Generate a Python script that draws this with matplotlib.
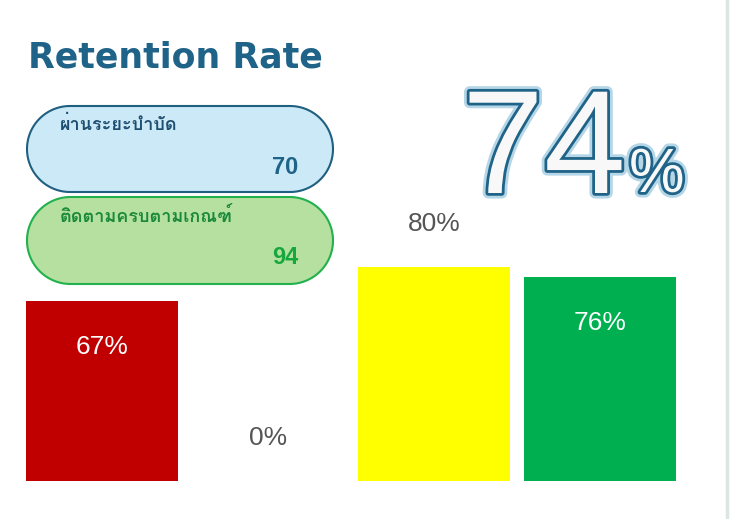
import matplotlib
matplotlib.use("Agg")
import numpy as np
import matplotlib.pyplot as plt
import matplotlib.patheffects as pe
from matplotlib.patches import Polygon
from matplotlib import font_manager
from matplotlib.ft2font import FT2Font

# ---------------- data ----------------
title = "Retention Rate"
big_value = "74"
pill_labels = ["ผ่านระยะบำบัด", "ติดตามครบตามเกณฑ์"]
pill_values = [70, 94]
bar_values = [67, 0, 80, 76]
bar_colors = ["#c00000", "#ffffff", "#ffff00", "#00b050"]
label_inside = [True, False, False, True]

# find a font with Thai glyphs
thai_font = None
for f in font_manager.fontManager.ttflist:
    try:
        cm = FT2Font(f.fname).get_charmap()
        if ord("ผ") in cm and ord("ำ") in cm:
            thai_font = f.name
            break
    except Exception:
        pass
thai_family = [thai_font, "DejaVu Sans"] if thai_font else ["DejaVu Sans"]

plt.rcParams["font.family"] = ["Liberation Sans", "DejaVu Sans"]

W, H = 730, 519
fig = plt.figure(figsize=(W / 100, H / 100), dpi=100)
fig.patch.set_facecolor("white")

# overlay axes in pixel coordinates (y downward)
ov = fig.add_axes([0, 0, 1, 1])
ov.set_xlim(0, W)
ov.set_ylim(H, 0)
ov.axis("off")

# title
ov.text(28, 58, title, fontsize=25, fontweight="bold", color="#1f6388",
        ha="left", va="center", family=["DejaVu Sans"])


def stadium(x0, x1, y0, y1):
    r = (y1 - y0) / 2
    yc = (y0 + y1) / 2
    th_r = np.linspace(-np.pi / 2, np.pi / 2, 60)
    th_l = np.linspace(np.pi / 2, 3 * np.pi / 2, 60)
    xr = (x1 - r) + r * np.cos(th_r)
    yr = yc + r * np.sin(th_r)
    xl = (x0 + r) + r * np.cos(th_l)
    yl = yc + r * np.sin(th_l)
    return np.column_stack([np.concatenate([xr, xl]), np.concatenate([yr, yl])])


# pills
pill_specs = [
    dict(y0=106, y1=192, face="#cce9f8", edge="#1f5f80", tcol="#1f4f70", vcol="#1f6388"),
    dict(y0=197, y1=284, face="#b5e0a0", edge="#22b14c", tcol="#1a8a3a", vcol="#16a83c"),
]
for lab, val, sp in zip(pill_labels, pill_values, pill_specs):
    poly = Polygon(stadium(27, 333, sp["y0"], sp["y1"]), closed=True,
                   facecolor=sp["face"], edgecolor=sp["edge"], linewidth=1.5)
    ov.add_patch(poly)
    ov.text(60, sp["y0"] + 19, lab, fontsize=13, fontweight="bold",
            color=sp["tcol"], ha="left", va="center", family=thai_family)
    ov.text(298, sp["y0"] + 61, str(val), fontsize=17, fontweight="bold",
            color=sp["vcol"], ha="right", va="center")

# big percentage
fx_eff = [pe.Stroke(linewidth=8, foreground="#b5d6e6"),
          pe.Stroke(linewidth=4, foreground="#1f6388"),
          pe.Normal()]
t1 = ov.text(462, 193, big_value, fontsize=106, color="#f8f8f8",
             ha="left", va="baseline")
t1.set_path_effects(fx_eff)
t2 = ov.text(629, 192, "%", fontsize=45, color="#f8f8f8",
             ha="left", va="baseline")
t2.set_path_effects(fx_eff)

# right edge line
ov.plot([727, 727], [0, H], color="#dce6e0", linewidth=2.5)

# bars
ax = fig.add_axes([19 / W, 38 / H, (683 - 19) / W, 268 / H])
xs = list(range(len(bar_values)))
ax.bar(xs, bar_values, width=0.91, color=bar_colors)
ax.set_xlim(-0.5, len(bar_values) - 0.5)
ax.set_ylim(0, 100)
ax.axis("off")
for x, v, inside in zip(xs, bar_values, label_inside):
    if inside:
        ax.annotate(f"{v}%", (x, v), xytext=(0, -33), textcoords="offset points",
                    ha="center", va="center", fontsize=19, color="white")
    else:
        ax.annotate(f"{v}%", (x, v), xytext=(0, 31), textcoords="offset points",
                    ha="center", va="center", fontsize=19, color="#555555")

fig.savefig("out.png", dpi=100, facecolor="white")
